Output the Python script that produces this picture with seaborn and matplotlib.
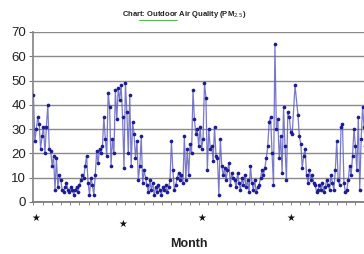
import matplotlib
matplotlib.use("Agg")
import matplotlib.pyplot as plt
import numpy as np
import pandas as pd
import seaborn as sns
from matplotlib.lines import Line2D
from matplotlib.transforms import blended_transform_factory

# PM2.5 readings in time order (one reading per sample)
pm25_first = [44, 25, 30, 35, 32, 22, 27, 31, 20, 31, 40, 22, 21, 15,
              19, 5, 18, 6, 11, 9, 5, 4, 6, 8, 5, 4, 6, 5,
              3, 5, 6, 4, 7, 9, 11, 10, 15, 19, 8, 3, 10, 7,
              3, 11, 21, 16, 22, 20, 23, 35, 26, 19, 45, 39, 15, 26]
pm25_second = [20, 46, 34, 47, 42, 48, 35, 14, 49, 37, 20, 44, 15, 33,
               28, 18, 25, 9, 15, 27, 8, 13, 10, 7, 4, 9, 5, 8,
               3, 6, 4, 7, 5, 3, 6, 5, 7, 4, 6, 9, 25, 13,
               5, 7, 10, 12, 9, 11, 8, 27, 9, 22, 11, 24, 20, 46]
pm25_third = [34, 28, 30, 23, 31, 22, 26, 49, 43, 13, 30, 22, 23, 17,
              31, 19, 18, 3, 26, 15, 11, 14, 9, 13, 16, 7, 12, 10,
              9, 6, 12, 8, 5, 10, 7, 11, 6, 9, 4, 15, 8, 5,
              9, 4, 6, 7, 10, 13, 11, 14, 18, 23, 33, 35, 20, 7]
pm25_fourth = [65, 30, 34, 18, 27, 12, 39, 23, 9, 37, 35, 29, 28, np.nan,
               48, np.nan, 36, 27, 24, 14, 19, 22, 11, 8, 13, 9, 11, 8,
               7, 4, 5, 7, 5, 8, 4, 6, 9, 7, 5, 11, 8, 5,
               13, 25, 9, 7, 31, 32, 8, 4, 5, 9, 15, 11, 19, 30,
               23, 13, 35, 5, 26, 39, 31, 23, 19]

star_samples = [1.5, 62, 117, 179]
star_drop = [0, 1, 0, 0]
y_ticks = [0, 10, 20, 30, 40, 50, 60, 70]

values = pm25_first + pm25_second + pm25_third + pm25_fourth
df = pd.DataFrame({"sample": np.arange(len(values)), "pm25": values})

sns.set_theme(style="white")
plt.rcParams["font.family"] = ["Liberation Sans", "DejaVu Sans"]

fig = plt.figure(figsize=(3.64, 2.54), dpi=100)
ax = fig.add_axes([33 / 364, 1 - 202 / 254, 1 - 33 / 364 + 0.01, 170 / 254])

sns.lineplot(data=df, x="sample", y="pm25", estimator=None, sort=False,
             color="#5858c0", linewidth=0.9, alpha=0.8, ax=ax)
sns.scatterplot(data=df.dropna(), x="sample", y="pm25", color="#1c1c90",
                s=7, linewidth=0, ax=ax, zorder=3)

ax.set_ylim(0, 70)
ax.set_xlim(-0.3, len(values) - 0.5)
ax.set_yticks(y_ticks)
ax.set_yticklabels([str(t) for t in y_ticks], fontsize=9.5, color="#222222")
ax.set_xticks(np.arange(0, len(values), 6.4))
ax.set_xticklabels([])
ax.tick_params(axis="x", direction="out", length=2, width=0.6, color="#777777", bottom=True)
ax.tick_params(axis="y", direction="out", length=3, width=0.8, color="#777777", left=True, pad=2)
ax.yaxis.grid(True, color="#8a8a8a", linewidth=1.0)
ax.set_axisbelow(True)
for side in ["top", "right"]:
    ax.spines[side].set_visible(False)
ax.spines["left"].set_color("#888888")
ax.spines["bottom"].set_color("#777777")
ax.set_xlabel("")
ax.set_ylabel("")

trans = blended_transform_factory(ax.transData, fig.transFigure)
for pos, drop in zip(star_samples, star_drop):
    ax.text(pos, 1 - (218 + 6 * drop) / 254, "\u2605", transform=trans,
            ha="center", va="center", fontsize=7, color="#111111",
            family="DejaVu Sans")

fig.text(0.52, 1 - 244 / 254, "Month", ha="center", va="center",
         fontsize=9, fontweight="bold", color="#222222")
fig.text(0.505, 1 - 15 / 254, r"Chart: Outdoor Air Quality (PM$_{2.5}$)",
         ha="center", va="center", fontsize=5.5, fontweight="bold", color="#222222")
fig.add_artist(Line2D([139 / 364, 177 / 364], [1 - 20 / 254, 1 - 20 / 254],
                      color="#55bb55", linewidth=0.8))

fig.savefig("out.png", dpi=100)
